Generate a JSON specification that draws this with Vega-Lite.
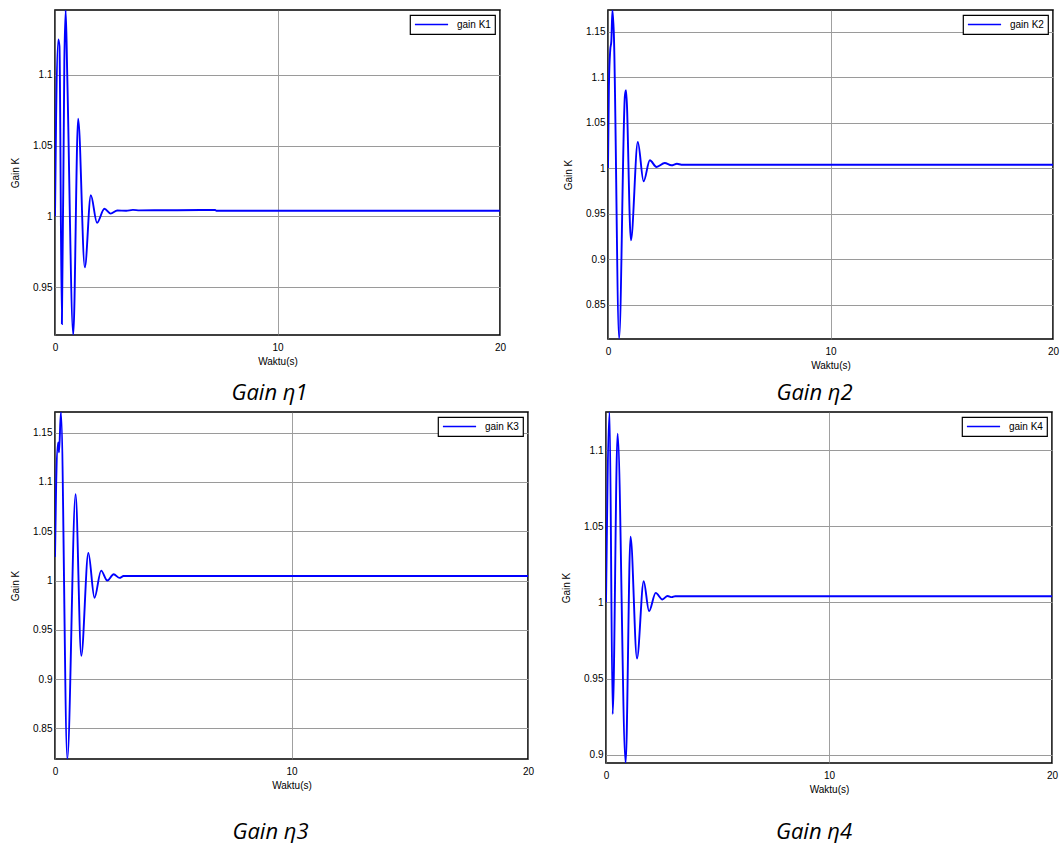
{
  "$schema": "https://vega.github.io/schema/vega-lite/v6.json",
  "background": "white",
  "padding": {"left": 9, "top": 9, "right": 5, "bottom": 5},
  "datasets": {
    "k1": [
      {"t": 0, "gain": 1.0, "series": "gain K1"},
      {"t": 0.05, "gain": 1.07, "series": "gain K1"},
      {"t": 0.15, "gain": 1.125, "series": "gain K1"},
      {"t": 0.2, "gain": 1.12, "series": "gain K1"},
      {"t": 0.31, "gain": 0.924, "series": "gain K1"},
      {"t": 0.42, "gain": 1.11, "series": "gain K1"},
      {"t": 0.48, "gain": 1.1455, "series": "gain K1"},
      {"t": 0.55, "gain": 1.1, "series": "gain K1"},
      {"t": 0.82, "gain": 0.9165, "series": "gain K1"},
      {"t": 1.04, "gain": 1.069, "series": "gain K1"},
      {"t": 1.34, "gain": 0.964, "series": "gain K1"},
      {"t": 1.61, "gain": 1.0149, "series": "gain K1"},
      {"t": 1.89, "gain": 0.9955, "series": "gain K1"},
      {"t": 2.22, "gain": 1.0054, "series": "gain K1"},
      {"t": 2.5, "gain": 1.002, "series": "gain K1"},
      {"t": 2.8, "gain": 1.0042, "series": "gain K1"},
      {"t": 3.2, "gain": 1.004, "series": "gain K1"},
      {"t": 3.5, "gain": 1.0046, "series": "gain K1"},
      {"t": 3.8, "gain": 1.0043, "series": "gain K1"},
      {"t": 7.2, "gain": 1.0045, "series": "gain K1"},
      {"t": 7.25, "gain": 1.004, "series": "gain K1"},
      {"t": 20, "gain": 1.004, "series": "gain K1"}
    ],
    "k2": [
      {"t": 0, "gain": 1.0, "series": "gain K2"},
      {"t": 0.04, "gain": 1.09, "series": "gain K2"},
      {"t": 0.1, "gain": 1.13, "series": "gain K2"},
      {"t": 0.15, "gain": 1.14, "series": "gain K2"},
      {"t": 0.2, "gain": 1.1742, "series": "gain K2"},
      {"t": 0.26, "gain": 1.15, "series": "gain K2"},
      {"t": 0.5, "gain": 0.8125, "series": "gain K2"},
      {"t": 0.76, "gain": 1.08, "series": "gain K2"},
      {"t": 0.81, "gain": 1.086, "series": "gain K2"},
      {"t": 1.03, "gain": 0.9208, "series": "gain K2"},
      {"t": 1.34, "gain": 1.029, "series": "gain K2"},
      {"t": 1.6, "gain": 0.9857, "series": "gain K2"},
      {"t": 1.88, "gain": 1.0088, "series": "gain K2"},
      {"t": 2.18, "gain": 1.0015, "series": "gain K2"},
      {"t": 2.55, "gain": 1.0058, "series": "gain K2"},
      {"t": 2.85, "gain": 1.0033, "series": "gain K2"},
      {"t": 3.1, "gain": 1.005, "series": "gain K2"},
      {"t": 3.3, "gain": 1.004, "series": "gain K2"},
      {"t": 20, "gain": 1.004, "series": "gain K2"}
    ],
    "k3": [
      {"t": 0, "gain": 1.024, "series": "gain K3"},
      {"t": 0.05, "gain": 1.1, "series": "gain K3"},
      {"t": 0.13, "gain": 1.14, "series": "gain K3"},
      {"t": 0.17, "gain": 1.13, "series": "gain K3"},
      {"t": 0.25, "gain": 1.171, "series": "gain K3"},
      {"t": 0.52, "gain": 0.819, "series": "gain K3"},
      {"t": 0.87, "gain": 1.0875, "series": "gain K3"},
      {"t": 1.11, "gain": 0.9237, "series": "gain K3"},
      {"t": 1.41, "gain": 1.028, "series": "gain K3"},
      {"t": 1.67, "gain": 0.9825, "series": "gain K3"},
      {"t": 1.95, "gain": 1.0101, "series": "gain K3"},
      {"t": 2.21, "gain": 1.0, "series": "gain K3"},
      {"t": 2.48, "gain": 1.0064, "series": "gain K3"},
      {"t": 2.73, "gain": 1.0027, "series": "gain K3"},
      {"t": 2.9, "gain": 1.0047, "series": "gain K3"},
      {"t": 20, "gain": 1.0047, "series": "gain K3"}
    ],
    "k4": [
      {"t": 0, "gain": 1.0, "series": "gain K4"},
      {"t": 0.16, "gain": 1.1252, "series": "gain K4"},
      {"t": 0.3, "gain": 0.9266, "series": "gain K4"},
      {"t": 0.52, "gain": 1.111, "series": "gain K4"},
      {"t": 0.88, "gain": 0.8945, "series": "gain K4"},
      {"t": 1.1, "gain": 1.0432, "series": "gain K4"},
      {"t": 1.39, "gain": 0.9632, "series": "gain K4"},
      {"t": 1.69, "gain": 1.014, "series": "gain K4"},
      {"t": 1.93, "gain": 0.9943, "series": "gain K4"},
      {"t": 2.23, "gain": 1.0063, "series": "gain K4"},
      {"t": 2.53, "gain": 1.002, "series": "gain K4"},
      {"t": 2.76, "gain": 1.0043, "series": "gain K4"},
      {"t": 2.95, "gain": 1.0035, "series": "gain K4"},
      {"t": 3.1, "gain": 1.0041, "series": "gain K4"},
      {"t": 20, "gain": 1.0041, "series": "gain K4"}
    ]
  },
  "bounds": "full",
  "spacing": 6,
  "vconcat": [
    {
      "bounds": "flush",
      "spacing": 108,
      "hconcat": [
        {
          "width": 445, "height": 325,
          "data": {"name": "k1"},
          "title": {"text": "Gain η1", "dx": -8, "offset": 17},
          "mark": {"type": "line", "interpolate": "monotone", "strokeWidth": 1.9, "clip": true},
          "encoding": {
            "x": {"field": "t", "type": "quantitative", "scale": {"domain": [0, 20], "nice": false, "zero": false}, "axis": {"values": [0, 10, 20], "title": "Waktu(s)"}},
            "y": {"field": "gain", "type": "quantitative", "scale": {"domain": [0.9163, 1.1457], "nice": false, "zero": false}, "axis": {"values": [0.95, 1, 1.05, 1.1], "format": "~g", "title": "Gain K"}},
            "color": {"field": "series", "type": "nominal", "scale": {"range": ["#0000ff"]}, "legend": {"orient": "top-right", "title": null}}
          }
        },
        {
          "width": 445, "height": 329,
          "data": {"name": "k2"},
          "title": {"text": "Gain η2", "dx": -16, "offset": 13},
          "mark": {"type": "line", "interpolate": "monotone", "strokeWidth": 1.9, "clip": true},
          "encoding": {
            "x": {"field": "t", "type": "quantitative", "scale": {"domain": [0, 20], "nice": false, "zero": false}, "axis": {"values": [0, 10, 20], "title": "Waktu(s)"}},
            "y": {"field": "gain", "type": "quantitative", "scale": {"domain": [0.8122, 1.1742], "nice": false, "zero": false}, "axis": {"values": [0.85, 0.9, 0.95, 1, 1.05, 1.1, 1.15], "format": "~g", "title": "Gain K"}},
            "color": {"field": "series", "type": "nominal", "scale": {"range": ["#0000ff"]}, "legend": {"orient": "top-right", "title": null}}
          }
        }
      ],
      "resolve": {"scale": {"color": "independent"}, "legend": {"color": "independent"}}
    },
    {
      "bounds": "flush",
      "spacing": 78,
      "hconcat": [
        {
          "width": 473, "height": 347,
          "data": {"name": "k3"},
          "title": {"text": "Gain η3", "dx": -21, "offset": 32},
          "mark": {"type": "line", "interpolate": "monotone", "strokeWidth": 1.9, "clip": true},
          "encoding": {
            "x": {"field": "t", "type": "quantitative", "scale": {"domain": [0, 20], "nice": false, "zero": false}, "axis": {"values": [0, 10, 20], "title": "Waktu(s)"}},
            "y": {"field": "gain", "type": "quantitative", "scale": {"domain": [0.819, 1.171], "nice": false, "zero": false}, "axis": {"values": [0.85, 0.9, 0.95, 1, 1.05, 1.1, 1.15], "format": "~g", "title": "Gain K"}},
            "color": {"field": "series", "type": "nominal", "scale": {"range": ["#0000ff"]}, "legend": {"orient": "top-right", "title": null}}
          }
        },
        {
          "width": 446, "height": 351,
          "data": {"name": "k4"},
          "title": {"text": "Gain η4", "dx": -15, "offset": 28},
          "mark": {"type": "line", "interpolate": "monotone", "strokeWidth": 1.9, "clip": true},
          "encoding": {
            "x": {"field": "t", "type": "quantitative", "scale": {"domain": [0, 20], "nice": false, "zero": false}, "axis": {"values": [0, 10, 20], "title": "Waktu(s)"}},
            "y": {"field": "gain", "type": "quantitative", "scale": {"domain": [0.8945, 1.1252], "nice": false, "zero": false}, "axis": {"values": [0.9, 0.95, 1, 1.05, 1.1], "format": "~g", "title": "Gain K"}},
            "color": {"field": "series", "type": "nominal", "scale": {"range": ["#0000ff"]}, "legend": {"orient": "top-right", "title": null}}
          }
        }
      ],
      "resolve": {"scale": {"color": "independent"}, "legend": {"color": "independent"}}
    }
  ],
  "resolve": {"scale": {"color": "independent"}, "legend": {"color": "independent"}},
  "config": {
    "view": {"stroke": "#000", "strokeWidth": 1.6},
    "font": "Liberation Sans",
    "axis": {
      "labelFont": "Liberation Sans", "labelFontSize": 10, "labelColor": "#000",
      "titleFont": "Liberation Sans", "titleFontSize": 10, "titleFontWeight": "normal", "titleColor": "#000",
      "domain": false, "ticks": false, "labelFlush": false,
      "gridColor": "#9a9a9a", "gridWidth": 1, "gridOpacity": 1
    },
    "axisX": {"labelPadding": 7, "titlePadding": 4, "gridColor": "#777777", "gridWidth": 0.7},
    "axisY": {"labelPadding": 3, "titlePadding": 12},
    "legend": {
      "strokeColor": "#000", "strokeWidth": 1.2, "fillColor": "#fff", "padding": 4,
      "symbolType": "stroke", "symbolSize": 1100, "symbolStrokeWidth": 1.6, "clipHeight": 11,
      "labelFont": "Liberation Sans", "labelFontSize": 10, "labelColor": "#000", "labelOffset": 8,
      "offset": 5, "cornerRadius": 0
    },
    "title": {
      "orient": "bottom", "frame": "group", "font": "Open Sans, Noto Sans, sans-serif", "fontStyle": "italic",
      "fontWeight": "normal", "fontSize": 22, "color": "#000"
    }
  }
}
